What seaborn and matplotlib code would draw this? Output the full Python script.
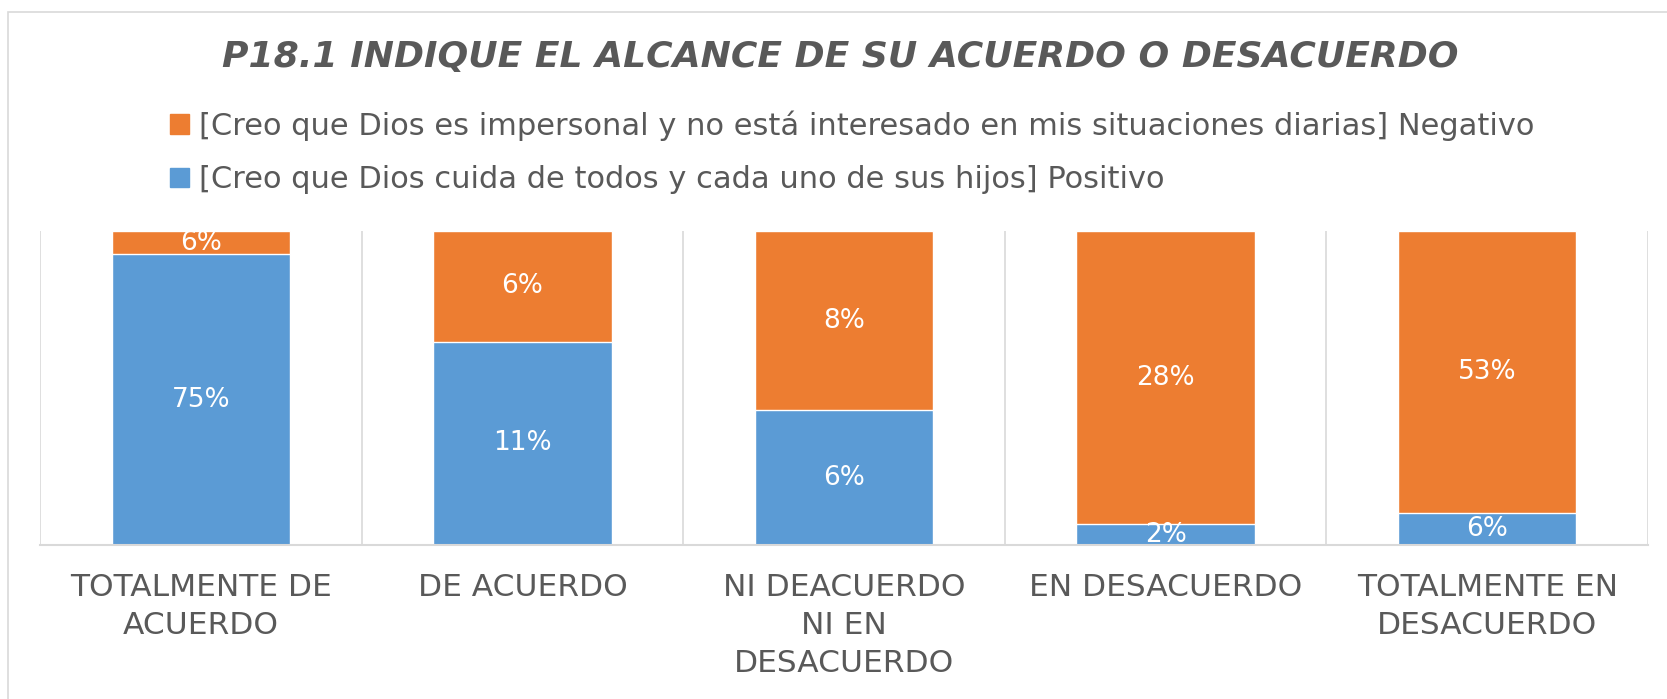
import matplotlib
matplotlib.use("Agg")
import matplotlib.pyplot as plt
import seaborn as sns
import pandas as pd
from matplotlib.patches import Rectangle, Patch

# Survey responses (percent of respondents)
categories = ["TOTALMENTE DE\nACUERDO", "DE ACUERDO", "NI DEACUERDO\nNI EN\nDESACUERDO",
              "EN DESACUERDO", "TOTALMENTE EN\nDESACUERDO"]
positivo = [75, 11, 6, 2, 6]
negativo = [6, 6, 8, 28, 53]

label_pos = "[Creo que Dios cuida de todos y cada uno de sus hijos] Positivo"
label_neg = "[Creo que Dios es impersonal y no está interesado en mis situaciones diarias] Negativo"
title = "P18.1 INDIQUE EL ALCANCE DE SU ACUERDO O DESACUERDO"

BLUE = "#5B9BD5"
ORANGE = "#ED7D31"
GREY = "#595959"
LINE = "#D9D9D9"

sns.set_theme(style="white")
plt.rcParams["font.family"] = ["DejaVu Sans"]

# 100% stacked shares
totals = [p + n for p, n in zip(positivo, negativo)]
df = pd.DataFrame({
    "cat": categories,
    "pos_share": [100 * p / t for p, t in zip(positivo, totals)],
    "cum_share": [100.0 for _ in totals],
})

fig = plt.figure(figsize=(16.67, 6.99), dpi=100)
ax = fig.add_axes([40 / 1667, 1 - 545 / 699, (1648 - 40) / 1667, 314 / 699])

sns.barplot(data=df, x="cat", y="cum_share", color=ORANGE, saturation=1,
            width=0.555, ax=ax, order=categories)
sns.barplot(data=df, x="cat", y="pos_share", color=BLUE, saturation=1,
            width=0.555, ax=ax, order=categories)

ax.set_xlim(-0.5, 4.5)
ax.set_ylim(0, 100)
ax.set_xlabel("")
ax.set_ylabel("")
ax.set_yticks([])
for s in ax.spines.values():
    s.set_visible(False)
ax.spines["bottom"].set_visible(True)
ax.spines["bottom"].set_color(LINE)
ax.spines["bottom"].set_linewidth(1.5)

# category separators
for xb in [-0.5, 0.5, 1.5, 2.5, 3.5, 4.5]:
    ax.axvline(xb, color=LINE, lw=1.2, zorder=0)

ax.tick_params(axis="x", length=0, pad=20)
ax.set_xticks(range(len(categories)))
ax.set_xticklabels(categories, fontsize=22.5, color=GREY, linespacing=1.4, va="top")

# value labels
for i, (p, n, t) in enumerate(zip(positivo, negativo, totals)):
    ps = 100 * p / t
    ax.text(i, ps / 2, f"{p}%", ha="center", va="center", color="white", fontsize=19)
    ax.text(i, ps + (100 - ps) / 2, f"{n}%", ha="center", va="center", color="white",
            fontsize=19)

# title and legend
fig.text(0.504, 1 - 57 / 699, title, ha="center", va="center", fontsize=26,
         fontweight="bold", fontstyle="italic", color=GREY)
handles = [Patch(color=ORANGE, label=label_neg), Patch(color=BLUE, label=label_pos)]
fig.legend(handles=handles, loc="upper left", bbox_to_anchor=(155 / 1667, 1 - 95 / 699),
           frameon=False, prop={"size": 22}, labelcolor=GREY,
           handlelength=0.6, handleheight=0.6, handletextpad=0.35, labelspacing=0.8,
           borderpad=0)

# outer chart frame
fig.patches.append(Rectangle((8 / 1667, -0.1), 1.2, 1 - 12 / 699 + 0.1,
                             transform=fig.transFigure, fill=False,
                             edgecolor=LINE, lw=1.2))

fig.savefig("out.png", dpi=100)
